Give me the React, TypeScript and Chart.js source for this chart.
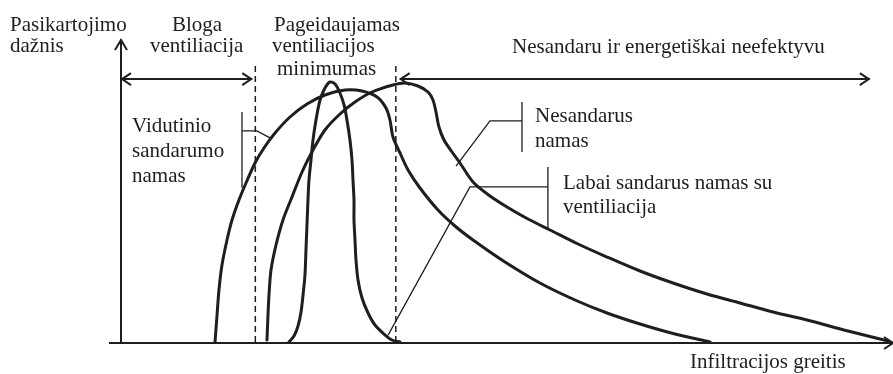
import React, { useEffect, useRef } from "react";
import { Chart, registerables } from "chart.js";

Chart.register(...registerables);

// Axis units: x = infiltration rate (0..100), y = frequency (0..100)

// Curve: "Vidutinio sandarumo namas"
const vidutinioX = [12.18, 12.44, 12.69, 13.08, 13.73, 14.38, 15.28, 16.19, 17.36, 18.52, 19.95, 21.89, 24.09, 26.42, 29.02, 31.22, 33.16, 34.33, 34.84, 35.23, 36.14, 37.18, 38.73, 41.06, 43.26, 45.6, 49.74, 54.27, 58.81, 62.95, 67.23, 71.76, 76.3];
const vidutinioY = [0.33, 9.24, 17.49, 25.74, 33.99, 40.59, 47.19, 52.81, 59.41, 64.36, 69.31, 74.59, 78.88, 81.85, 83.5, 83.17, 81.19, 77.56, 73.6, 67.99, 62.71, 57.1, 51.16, 43.89, 38.61, 33.99, 26.73, 19.8, 14.19, 9.9, 6.27, 2.97, 0.33];

// Curve: "Labai sandarus namas su ventiliacija"
const labaiX = [21.76, 22.41, 22.93, 23.32, 23.58, 23.83, 23.96, 24.09, 24.22, 24.35, 24.61, 24.87, 25.26, 25.78, 26.42, 27.07, 27.72, 28.37, 28.89, 29.27, 29.66, 29.92, 30.05, 30.18, 30.18, 30.31, 30.44, 30.7, 31.22, 32.0, 32.9, 34.07, 35.1, 36.14];
const labaiY = [0.33, 2.31, 5.61, 10.23, 15.84, 22.44, 30.69, 38.94, 47.19, 53.8, 60.4, 67.0, 73.6, 80.2, 84.16, 86.14, 85.48, 82.51, 78.55, 73.6, 67.0, 60.4, 53.8, 47.19, 40.59, 33.99, 27.39, 20.79, 14.85, 9.9, 5.94, 2.97, 0.99, 0.33];

// Curve: "Nesandarus namas"
const nesandarusX = [18.91, 19.04, 19.17, 19.43, 20.08, 20.98, 22.15, 23.45, 24.87, 26.42, 28.37, 30.31, 32.51, 35.23, 36.79, 38.47, 39.77, 40.41, 40.8, 41.19, 41.84, 42.88, 43.91, 45.6, 47.8, 50.0, 52.72, 55.57, 59.2, 62.95, 67.23, 71.5, 75.91, 80.18, 84.46, 88.86, 94.17, 99.35];
const nesandarusY = [0.99, 9.24, 15.84, 24.09, 32.34, 40.59, 48.18, 56.44, 63.7, 70.3, 75.58, 79.54, 82.84, 85.15, 85.81, 84.82, 82.84, 80.2, 76.24, 71.29, 66.99, 63.04, 59.41, 53.14, 48.51, 44.88, 40.92, 37.29, 32.67, 28.38, 23.76, 19.8, 16.17, 13.2, 10.23, 7.59, 3.96, 0.66];

// Zone boundaries (dashed) and range arrows
const zoneBounds = [17.4, 35.6];
const zoneTop = 91.4;
const rangeArrowY = 87.1;
const badRange = [0, 17.0];
const leakyRange = [36.1, 97.0];

// Callouts: [bracketX, bracketTop, bracketBottom, elbowY, elbowX, targetX, targetY]
const calloutVidutinio = [15.67, 76.2, 51.2, 70.0, 17.6, 19.3, 67.7];
const calloutNesandarus = [51.94, 79.5, 63.0, 73.3, 47.8, 43.4, 58.4];
const calloutLabai = [55.3, 58.1, 37.3, 51.5, 45.2, 34.6, 2.6];

const INK = "#1e1e1e";
const FONT = '21px "Liberation Serif", "Times New Roman", serif';

function toPts(xs: number[], ys: number[]) {
  return xs.map((x, i) => ({ x, y: ys[i] }));
}

const decorPlugin = {
  id: "decor",
  afterDatasetsDraw(chart: any) {
    const ctx: CanvasRenderingContext2D = chart.ctx;
    const xs = chart.scales.x;
    const ys = chart.scales.y;
    const px = (v: number) => xs.getPixelForValue(v);
    const py = (v: number) => ys.getPixelForValue(v);
    const ox = px(0);
    const oy = py(0);

    ctx.save();
    ctx.strokeStyle = INK;
    ctx.fillStyle = INK;
    ctx.lineCap = "butt";

    // axes
    ctx.lineWidth = 2;
    ctx.beginPath();
    ctx.moveTo(ox, oy);
    ctx.lineTo(ox, py(100) + 1);
    ctx.moveTo(ox - 12, oy);
    ctx.lineTo(px(100), oy);
    ctx.stroke();
    const yTop = py(100);
    ctx.beginPath();
    ctx.moveTo(ox - 6, yTop + 10);
    ctx.lineTo(ox, yTop);
    ctx.lineTo(ox + 6, yTop + 10);
    ctx.stroke();
    const xEnd = px(100);
    ctx.beginPath();
    ctx.moveTo(xEnd - 9, oy - 6);
    ctx.lineTo(xEnd, oy);
    ctx.lineTo(xEnd - 9, oy + 6);
    ctx.stroke();

    // dashed zone lines
    ctx.lineWidth = 1.5;
    ctx.setLineDash([6, 4]);
    zoneBounds.forEach((b) => {
      ctx.beginPath();
      ctx.moveTo(px(b), py(zoneTop));
      ctx.lineTo(px(b), oy);
      ctx.stroke();
    });
    ctx.setLineDash([]);

    // double arrows
    const dbl = (a: number, b: number) => {
      const x1 = px(a);
      const x2 = px(b);
      const y = py(rangeArrowY);
      ctx.lineWidth = 2;
      ctx.beginPath();
      ctx.moveTo(x1, y);
      ctx.lineTo(x2, y);
      ctx.moveTo(x1 + 10, y - 6);
      ctx.lineTo(x1 + 1, y);
      ctx.lineTo(x1 + 10, y + 6);
      ctx.moveTo(x2 - 10, y - 6);
      ctx.lineTo(x2 - 1, y);
      ctx.lineTo(x2 - 10, y + 6);
      ctx.stroke();
    };
    dbl(badRange[0], badRange[1]);
    dbl(leakyRange[0], leakyRange[1]);

    // callouts
    const callout = (c: number[]) => {
      const [bx, bt, bb, ey, ex, tx, ty] = c;
      ctx.lineWidth = 1.3;
      ctx.beginPath();
      ctx.moveTo(px(bx), py(bt));
      ctx.lineTo(px(bx), py(bb));
      ctx.moveTo(px(bx), py(ey));
      ctx.lineTo(px(ex), py(ey));
      ctx.lineTo(px(tx), py(ty));
      ctx.stroke();
    };
    callout(calloutVidutinio);
    callout(calloutNesandarus);
    callout(calloutLabai);

    // texts
    ctx.font = FONT;
    ctx.textBaseline = "alphabetic";
    ctx.textAlign = "left";
    const t = (s: string, x: number, y: number) => ctx.fillText(s, x, y);
    t("Pasikartojimo", 10, 31);
    t("dažnis", 10, 52);
    t("Bloga", 172, 31);
    t("ventiliacija", 150, 52);
    t("Pageidaujamas", 274, 31);
    t("ventiliacijos", 272, 52);
    t("minimumas", 277, 75);
    t("Nesandaru ir energetiškai neefektyvu", 512, 53);
    t("Vidutinio", 132, 132);
    t("sandarumo", 132, 157);
    t("namas", 132, 182);
    t("Nesandarus", 535, 122);
    t("namas", 535, 147);
    t("Labai sandarus namas su", 563, 189);
    t("ventiliacija", 563, 213);
    t("Infiltracijos greitis", 690, 368);
    ctx.restore();
  },
};

export default function App() {
  const ref = useRef<HTMLCanvasElement | null>(null);

  useEffect(() => {
    if (!ref.current) return;
    const curveStyle = {
      borderColor: INK,
      borderWidth: 3,
      pointRadius: 0,
      showLine: true,
      tension: 0.3,
      fill: false,
      borderJoinStyle: "round",
      borderCapStyle: "round",
    };
    const chart = new Chart(ref.current, {
      type: "scatter",
      data: {
        datasets: [
          { label: "Vidutinio sandarumo namas", data: toPts(vidutinioX, vidutinioY), ...curveStyle },
          { label: "Labai sandarus namas su ventiliacija", data: toPts(labaiX, labaiY), ...curveStyle },
          { label: "Nesandarus namas", data: toPts(nesandarusX, nesandarusY), ...curveStyle },
        ],
      },
      options: {
        animation: false,
        responsive: false,
        devicePixelRatio: 1,
        layout: { padding: { left: 121, top: 40, right: 0, bottom: 31 } },
        plugins: { legend: { display: false }, tooltip: { enabled: false } },
        scales: {
          x: { type: "linear", min: 0, max: 100, display: false },
          y: { type: "linear", min: 0, max: 100, display: false },
        },
      },
      plugins: [decorPlugin],
    } as any);
    return () => chart.destroy();
  }, []);

  return (
    <div style={{ position: "absolute", left: 0, top: 0, width: 893, height: 374, background: "#fff" }}>
      <canvas ref={ref} width={893} height={374} style={{ display: "block" }} />
    </div>
  );
}
